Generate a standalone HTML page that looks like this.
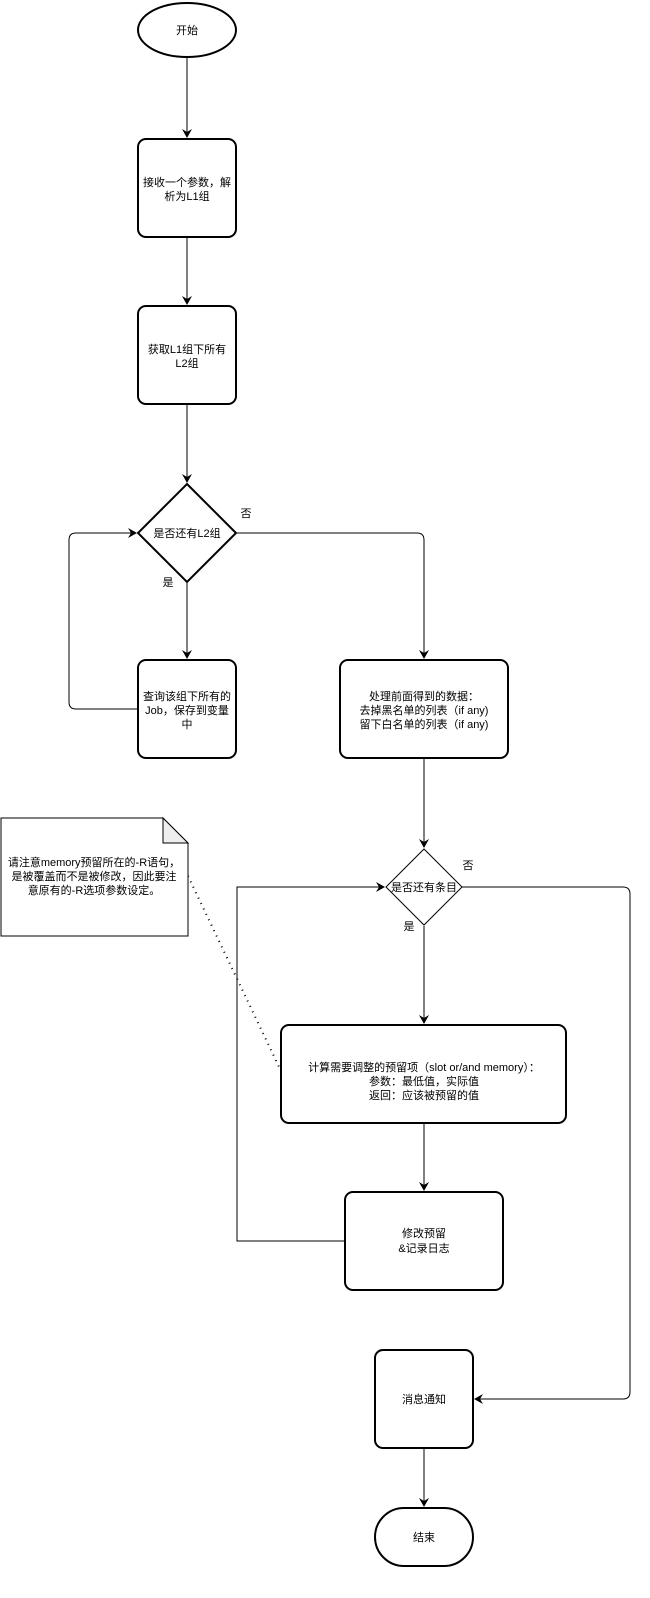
<!DOCTYPE html>
<html><head><meta charset="utf-8"><style>
body{margin:0;background:#fff;}
svg text{font-family:"Liberation Sans","Noto Sans CJK SC",sans-serif;font-size:11px;fill:#000;}
</style></head><body>
<svg width="650" height="1593" viewBox="0 0 650 1593" xmlns="http://www.w3.org/2000/svg">
<defs><marker id="a" markerWidth="10" markerHeight="10" refX="8" refY="5" orient="auto" markerUnits="userSpaceOnUse"><path d="M0,0 L9,5 L0,10 L3,5 Z" fill="#000"/></marker></defs>
<g fill="none" stroke="#000" stroke-width="1">
<line x1="187" y1="58" x2="187" y2="137" marker-end="url(#a)"/>
<line x1="187" y1="238" x2="187" y2="304" marker-end="url(#a)"/>
<line x1="187" y1="405" x2="187" y2="482" marker-end="url(#a)"/>
<line x1="187" y1="583" x2="187" y2="658" marker-end="url(#a)"/>
<path d="M138,709 H76 Q69,709 69,702 V540 Q69,533 76,533 H136" marker-end="url(#a)"/>
<path d="M236,533 H417 Q424,533 424,540 V658" marker-end="url(#a)"/>
<line x1="424" y1="759" x2="424" y2="847" marker-end="url(#a)"/>
<line x1="424" y1="926" x2="424" y2="1023" marker-end="url(#a)"/>
<line x1="424" y1="1124" x2="424" y2="1190" marker-end="url(#a)"/>
<path d="M345,1241 H237 V887 H384" marker-end="url(#a)"/>
<path d="M462,887 H623 Q630,887 630,894 V1392 Q630,1399 623,1399 H475" marker-end="url(#a)"/>
<line x1="424" y1="1449" x2="424" y2="1506" marker-end="url(#a)"/>
<line x1="188" y1="876" x2="281" y2="1071" stroke-dasharray="1,5" stroke-width="2"/>
</g>
<g fill="#fff" stroke="#000" stroke-width="2">
<ellipse cx="187" cy="30" rx="49" ry="27"/>
<rect x="138" y="139" width="98" height="98" rx="8"/>
<rect x="138" y="306" width="98" height="98" rx="8"/>
<polygon points="187,484 236,533 187,582 138,533"/>
<rect x="138" y="660" width="98" height="98" rx="8"/>
<rect x="340" y="660" width="168" height="98" rx="8"/>
<polygon points="424,849 462,887 424,925 386,887" stroke-width="1"/>
<rect x="281" y="1025" width="285" height="98" rx="8"/>
<rect x="345" y="1192" width="158" height="98" rx="8"/>
<rect x="375" y="1350" width="98" height="98" rx="8"/>
<rect x="375" y="1508" width="98" height="58" rx="29"/>
</g>
<path d="M1,818 H163 L188,843 V936 H1 Z" fill="#fff" stroke="#000" stroke-width="1"/>
<path d="M163,818 V843 H188 Z" fill="#eee" stroke="#000" stroke-width="1"/>
<g text-anchor="middle">
<text x="187" y="34">开始</text>
<text x="187" y="186">接收一个参数，解</text><text x="187" y="200">析为L1组</text>
<text x="187" y="353">获取L1组下所有</text><text x="187" y="367">L2组</text>
<text x="187" y="537">是否还有L2组</text>
<text x="246" y="517">否</text>
<text x="168" y="586">是</text>
<text x="187" y="700">查询该组下所有的</text><text x="187" y="714">Job，保存到变量</text><text x="187" y="728">中</text>
<text x="424" y="700">处理前面得到的数据：</text><text x="424" y="714">去掉黑名单的列表（if any)</text><text x="424" y="728">留下白名单的列表（if any)</text>
<text x="424" y="891">是否还有条目</text>
<text x="468" y="869">否</text>
<text x="409" y="930">是</text>
<text x="424" y="1071">计算需要调整的预留项（slot or/and memory）：</text><text x="424" y="1085">参数：最低值，实际值</text><text x="424" y="1099">返回：应该被预留的值</text>
<text x="424" y="1237">修改预留</text><text x="424" y="1252">&amp;记录日志</text>
<text x="424" y="1403">消息通知</text>
<text x="424" y="1541">结束</text>
<text x="94" y="866">请注意memory预留所在的-R语句，</text><text x="94" y="880">是被覆盖而不是被修改，因此要注</text><text x="94" y="894">意原有的-R选项参数设定。</text>
</g>
</svg>
</body></html>
